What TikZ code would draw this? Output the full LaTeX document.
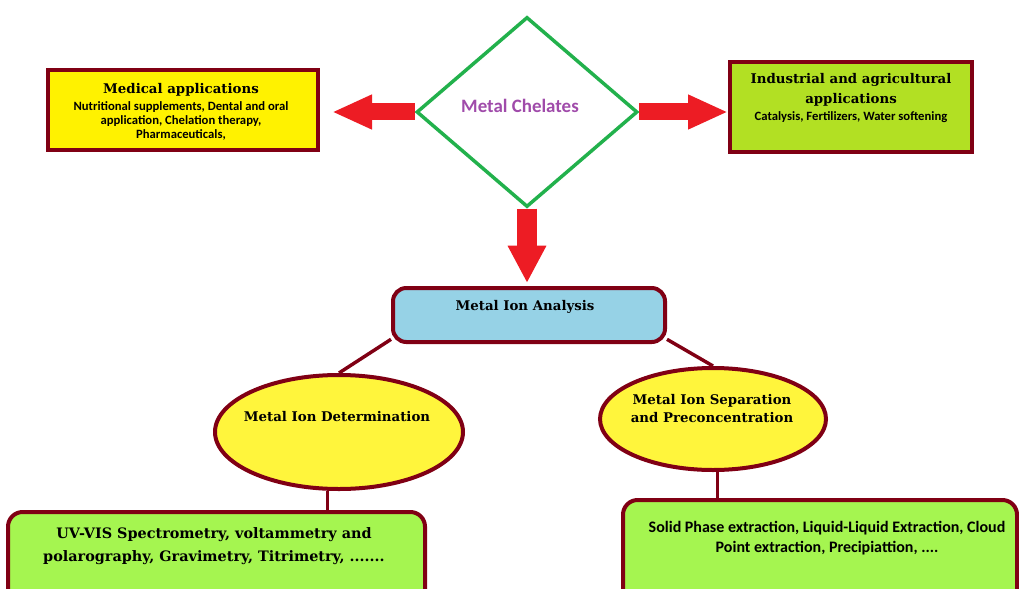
\documentclass[tikz,border=0pt]{standalone}
\usepackage{fontspec}
\usetikzlibrary{shapes.geometric,arrows.meta,calc}
\newfontfamily\serifb{DejaVu Serif}
\newfontfamily\calfont{Carlito}
\definecolor{maroonc}{RGB}{128,0,20}
\definecolor{medyel}{RGB}{255,242,0}
\definecolor{ellyel}{RGB}{255,245,60}
\definecolor{indgreen}{RGB}{178,224,35}
\definecolor{boxgreen}{RGB}{165,245,80}
\definecolor{anablue}{RGB}{150,210,230}
\definecolor{arrred}{RGB}{237,28,36}
\definecolor{diagreen}{RGB}{34,177,76}
\definecolor{chelpurple}{RGB}{160,75,170}
\begin{document}
\begin{tikzpicture}[x=0.75pt,y=-0.75pt,
  framebox/.style={draw=maroonc,line width=3pt,inner sep=0pt},
  ovalbox/.style={framebox,ellipse,fill=ellyel},
  titletext/.style={font=\serifb\bfseries\fontsize{10}{15}\selectfont,align=center,inner sep=0pt},
  bodytext/.style={font=\calfont\bfseries\fontsize{9.5}{10.5}\selectfont,align=center,inner sep=0pt},
  conn/.style={draw=maroonc,line width=2.6pt},
  bigarrow/.style={draw=arrred,line width=12.75pt,-{Triangle[length=30pt,width=24pt]}}]
\clip (0,0) rectangle (1019,588);
\fill[white] (0,0) rectangle (1019,588);
% diamond
\node[diamond,draw=diagreen,line width=2.6pt,minimum width=165.75pt,minimum height=142.5pt,inner sep=0pt] (dia) at (527,112) {};
\node[font=\calfont\bfseries\fontsize{14.2}{16}\selectfont,text=chelpurple,inner sep=0pt] (diaT) at (520,106) {Metal Chelates};
% medical
\node[framebox,fill=medyel,minimum width=202.5pt,minimum height=60pt] (med) at (183,110) {};
\node[titletext] (medT) at (181,90) {Medical applications};
\node[bodytext] (medB) at (181,121) {Nutritional supplements, Dental and oral\\application, Chelation therapy,\\Pharmaceuticals,};
% industrial
\node[framebox,fill=indgreen,minimum width=181.5pt,minimum height=67.5pt] (ind) at (851,107) {};
\node[titletext] (indT) at (851,90) {Industrial and agricultural\\applications};
\node[bodytext] (indB) at (851,117) {Catalysis, Fertilizers, Water softening};
% arrows
\coordinate (ltip) at (332,112);
\draw[bigarrow] (dia.west) -- (ltip);
\draw[bigarrow] (dia.east) -- (ind.west |- dia.east);
\node[framebox,fill=anablue,rounded corners=10pt,minimum width=204pt,minimum height=40.5pt] (ana) at (529,315) {};
\draw[bigarrow,line width=15pt,-{Triangle[length=28pt,width=27pt]}] (dia.south) -- ($(dia.south |- ana.north)+(0,-3)$);
\node[titletext] (anaT) at (525,307) {Metal Ion Analysis};
% ellipses
\node[ovalbox,minimum width=186pt,minimum height=85.5pt] (det) at (339,432) {};
\node[titletext] (detT) at (337,417) {Metal Ion Determination};
\node[ovalbox,minimum width=169.5pt,minimum height=76.5pt] (sep) at (713,419) {};
\node[titletext,font=\serifb\bfseries\fontsize{10}{13.5}\selectfont] (sepT) at (712,409) {Metal Ion Separation\\and Preconcentration};
\draw[conn] (ana.190) -- (det.north);
\draw[conn] (ana.350) -- (sep.north);
% bottom boxes
\node[framebox,fill=boxgreen,rounded corners=11pt,minimum width=312.75pt,minimum height=73.5pt] (box1) at (216.5,561) {};
\node[titletext,font=\serifb\bfseries\fontsize{10.8}{17}\selectfont] (box1T) at (214,546) {UV-VIS Spectrometry, voltammetry and\\polarography, Gravimetry, Titrimetry, .......};
\node[framebox,fill=boxgreen,rounded corners=11pt,minimum width=295.5pt,minimum height=82.5pt] (box2) at (820,555) {};
\node[bodytext,font=\calfont\bfseries\fontsize{12}{15.5}\selectfont] (box2T) at (827,538) {Solid Phase extraction, Liquid-Liquid Extraction, Cloud\\Point extraction, Precipiattion, ....};
\draw[conn] (det.259) -- (det.259 |- box1.north);
\draw[conn] (sep.275) -- (sep.275 |- box2.north);
\end{tikzpicture}
\end{document}
